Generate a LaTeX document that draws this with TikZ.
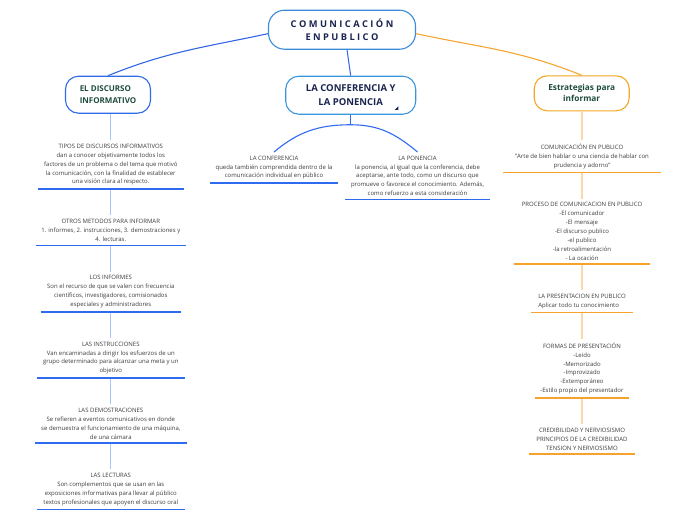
\documentclass[tikz,border=0pt]{standalone}
\usepackage{fontspec}
\setmainfont{Open Sans}
\usetikzlibrary{positioning}
\definecolor{inkblue}{HTML}{1A2550}
\definecolor{leafgreen}{HTML}{1E4D3B}
\definecolor{bodygray}{HTML}{3C3C3C}
\definecolor{rootedge}{HTML}{3A8BD8}
\definecolor{leftedge}{HTML}{2F6BE8}
\definecolor{midedge}{HTML}{3B95DB}
\definecolor{rightedge}{HTML}{F5A623}
\definecolor{leftlink}{HTML}{3366E6}
\definecolor{rightlink}{HTML}{F7A531}
\definecolor{stemblue}{HTML}{A8C6F5}
\definecolor{stemorange}{HTML}{F9D9A9}
\definecolor{ulblue}{HTML}{2F6BF0}
\definecolor{ulorange}{HTML}{F6A32B}

\begin{document}
\begin{tikzpicture}[
    x=1pt, y=-1pt,
    node distance=26.2pt,
    topic/.style={draw=rootedge, line width=1.1pt, rounded corners=16pt, fill=white,
                  minimum width=147pt, minimum height=39pt, align=center, text=inkblue,
                  font=\bfseries\fontsize{9.3}{13.3}\selectfont},
    branch/.style={draw, line width=1.1pt, rounded corners=13pt, fill=white, inner sep=2pt},
    leaf/.style={align=center, inner xsep=0pt, inner ysep=3.7pt, text=bodygray,
                 font=\fontsize{6}{8.85}\selectfont},
    blueline/.style={draw=ulblue, line width=1.6pt},
    orangeline/.style={draw=ulorange, line width=1.6pt},
    bluestem/.style={draw=stemblue, line width=1.2pt},
    orangestem/.style={draw=stemorange, line width=1.2pt},
    forkline/.style={draw=ulblue, line width=1.1pt}
  ]
  \useasboundingbox (0,0) rectangle (696,520);

  % main topic and the three branches
  \node[topic] (root) at (342,29.7) {C O M U N I C A C I Ó N\\E N P U B L I C O};
  \node[branch, draw=leftedge, minimum width=85pt, minimum height=37pt, text=leafgreen,
        align=left, font=\bfseries\fontsize{8}{11.6}\selectfont] (discurso) at (108,94.7)
        {EL DISCURSO\\INFORMATIVO};
  \node[branch, draw=midedge, minimum width=130pt, minimum height=38pt, text=inkblue,
        align=center, font=\bfseries\fontsize{9.5}{13.3}\selectfont] (confpon) at (350.7,95.2)
        {LA CONFERENCIA Y\\LA PONENCIA};
  \node[branch, draw=rightedge, minimum width=95pt, minimum height=35pt, text=leafgreen,
        align=center, font=\bfseries\fontsize{8.3}{11}\selectfont] (estrategias) at (581.7,93.3)
        {Estrategias para\\informar};
  \fill[inkblue] ([xshift=-18pt,yshift=5pt]confpon.south east) -- ++(-3.5pt,0pt) -- ++(3.5pt,3.5pt) -- cycle;

  \draw[draw=leftlink, line width=1.1pt] ([yshift=-4pt]root.west) to[out=192, in=22] (discurso.north);
  \draw[draw=leftlink, line width=1pt] ([xshift=5pt]root.south) -- (confpon.north);
  \draw[draw=rightlink, line width=1.1pt] ([yshift=-4pt]root.east) to[out=-12, in=158] (estrategias.north);

  % left column
  \node[leaf, minimum width=145pt, anchor=north] (tipos) at (110.8,140.3)
    {TIPOS DE DISCURSOS INFORMATIVOS\\dan a conocer objetivamente todos los\\factores de un problema o del tema que motivó\\la comunicación, con la finalidad de establecer\\una visión clara al respecto.};
  \node[leaf, minimum width=150pt, below=of tipos] (otros)
    {OTROS METODOS PARA INFORMAR\\1. informes, 2. instrucciones, 3. demostraciones y\\4. lecturas.};
  \node[leaf, minimum width=140pt, below=of otros] (informes)
    {LOS INFORMES\\Son el recurso de que se valen con frecuencia\\científicos, investigadores, comisionados\\especiales y administradores};
  \node[leaf, minimum width=148pt, below=of informes] (instrucciones)
    {LAS INSTRUCCIONES\\Van encaminadas a dirigir los esfuerzos de un\\grupo determinado para alcanzar una meta y un\\objetivo};
  \node[leaf, minimum width=152pt, below=of instrucciones] (demostraciones)
    {LAS DEMOSTRACIONES\\Se refieren a eventos comunicativos en donde\\se demuestra el funcionamiento de una máquina,\\de una cámara};
  \node[leaf, minimum width=148pt, below=of demostraciones] (lecturas)
    {LAS LECTURAS\\Son complementos que se usan en las\\exposiciones informativas para llevar al público\\textos profesionales que apoyen el discurso oral};

  \draw[bluestem] (discurso.south -| tipos.north) -- (tipos.north);
  \foreach \a/\b in {tipos/otros, otros/informes, informes/instrucciones,
                     instrucciones/demostraciones, demostraciones/lecturas}
    \draw[bluestem] (\a) -- (\b);

  % middle branch
  \node[leaf, minimum width=128pt, anchor=north] (conf) at (274,152)
    {LA CONFERENCIA\\queda también comprendida dentro de la\\comunicación individual en público};
  \node[leaf, minimum width=145pt, anchor=north] (ponencia) at (417.5,152)
    {LA PONENCIA\\la ponencia, al igual que la conferencia, debe\\aceptarse, ante todo, como un discurso que\\promueve o favorece el conocimiento. Además,\\como refuerzo a esta consideración};
  \coordinate[below=10pt of confpon] (fork);
  \draw[forkline] (confpon.south) -- (fork);
  \draw[forkline] (fork) to[out=180, in=40] (conf.north);
  \draw[forkline] (fork) to[out=0, in=140] (ponencia.north);

  % right column
  \node[leaf, minimum width=157pt, anchor=north] (comunicacion) at (582,140)
    {COMUNICACIÓN EN PUBLICO\\"Arte de bien hablar o una ciencia de hablar con\\prudencia y adorno"};
  \node[leaf, minimum width=135pt, below=of comunicacion] (proceso)
    {PROCESO DE COMUNICACION EN PUBLICO\\-El comunicador\\-El mensaje\\-El discurso publico\\-el publico\\-la retroalimentación\\- La ocación};
  \node[leaf, minimum width=101pt, align=left, below=of proceso] (presentacion)
    {LA PRESENTACION EN PUBLICO\\Aplicar todo tu conocimiento};
  \node[leaf, minimum width=94pt, below=of presentacion] (formas)
    {FORMAS DE PRESENTACIÓN\\-Leido\\-Memorizado\\-Improvizado\\-Extemporáneo\\-Estilo propio del presentador};
  \node[leaf, minimum width=106pt, below=of formas] (credibilidad)
    {CREDIBILIDAD Y NERVIOSISMO\\PRINCIPIOS DE LA CREDIBILIDAD\\TENSION Y NERVIOSISMO};

  \draw[orangestem] (estrategias.south -| comunicacion.north) -- (comunicacion.north);
  \foreach \a/\b in {comunicacion/proceso, proceso/presentacion,
                     presentacion/formas, formas/credibilidad}
    \draw[orangestem] (\a) -- (\b);

  % underlines
  \foreach \n in {tipos, otros, informes, instrucciones, demostraciones, lecturas, conf, ponencia}
    \draw[blueline] (\n.south west) -- (\n.south east);
  \foreach \n in {comunicacion, proceso, presentacion, formas, credibilidad}
    \draw[orangeline] (\n.south west) -- (\n.south east);
\end{tikzpicture}
\end{document}
